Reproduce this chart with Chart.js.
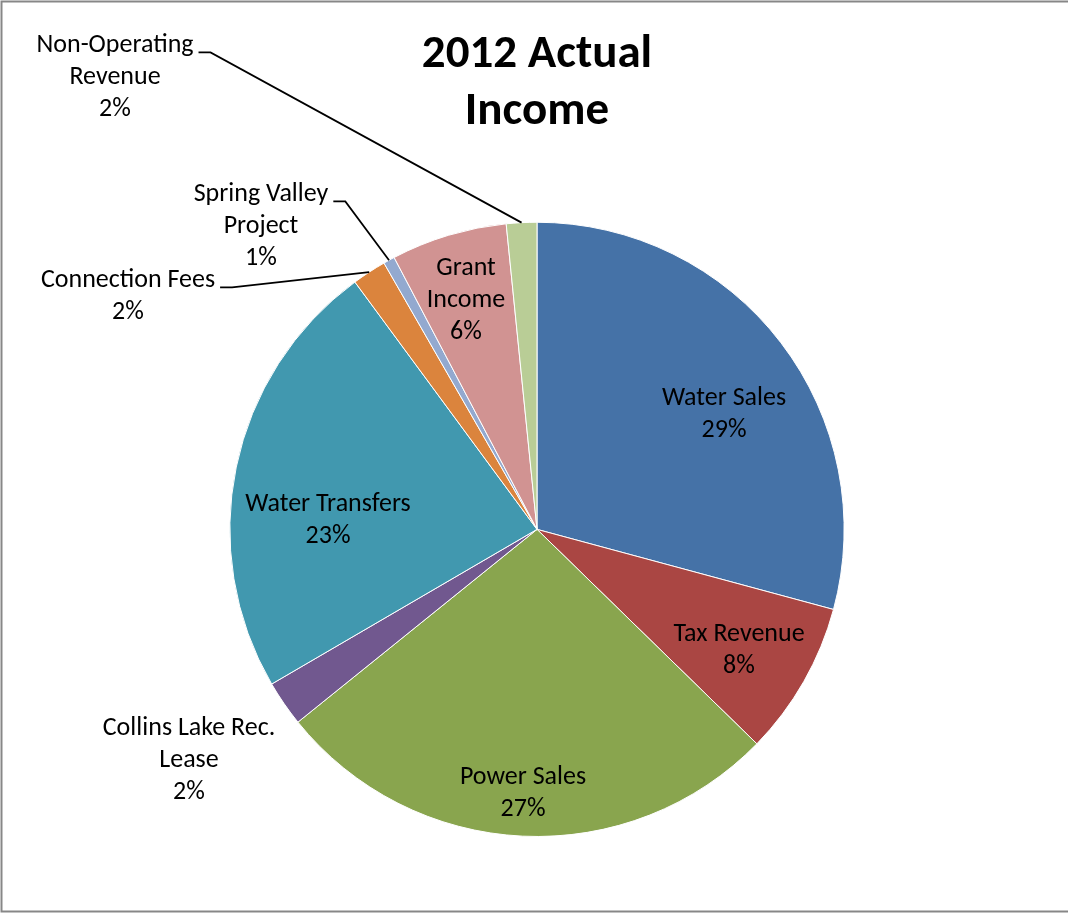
<!DOCTYPE html>
<html>
<head>
<meta charset="utf-8">
<script src="https://cdn.jsdelivr.net/npm/chart.js"></script>
<style>
  body { margin: 0; background: #fff; }
</style>
</head>
<body>
<canvas id="myChart" width="1068" height="913"></canvas>
<script>
// datos (porcentaje del ingreso)
const categorias = [
  "Water Sales",
  "Tax Revenue",
  "Power Sales",
  "Collins Lake Rec. Lease",
  "Water Transfers",
  "Connection Fees",
  "Spring Valley Project",
  "Grant Income",
  "Non-Operating Revenue",
];
const valores = [29.2, 8.1, 26.9, 2.4, 23.3, 1.8, 0.6, 6.1, 1.6];
const colores = [
  "#4572A7", "#AA4643", "#89A54E", "#71588F", "#4198AF",
  "#DB843D", "#93A9CF", "#D19392", "#B9CD96",
];

// como se parte cada etiqueta en lineas
const lineasEtiqueta = [
  ["Water Sales"],
  ["Tax Revenue"],
  ["Power Sales"],
  ["Collins Lake Rec.", "Lease"],
  ["Water Transfers"],
  ["Connection Fees"],
  ["Spring Valley", "Project"],
  ["Grant", "Income"],
  ["Non-Operating", "Revenue"],
];
// posicion de cada bloque de texto respecto al centro del pie
const posEtiqueta = [
  [187, -115], [202, 121], [-14, 264], [-348, 231], [-209, -9],
  [-409, -233], [-276, -303], [-71, -229], [-422, -452],
];
const conLinea = [false, false, false, false, false, true, true, false, true];

const fuente = "Carlito, Lato, sans-serif";
const altoLinea = 32;

const bordePlugin = {
  id: "borde",
  beforeDraw: (chart) => {
    const ctx = chart.ctx;
    ctx.save();
    ctx.fillStyle = "#fff";
    ctx.fillRect(0, 0, chart.width, chart.height);
    ctx.strokeStyle = "#878787";
    ctx.lineWidth = 2;
    ctx.strokeRect(1.5, 1.5, chart.width + 10, chart.height - 3);
    ctx.restore();
  },
};

const etiquetasPlugin = {
  id: "etiquetas",
  afterDatasetsDraw: (chart) => {
    const ctx = chart.ctx;
    const meta = chart.getDatasetMeta(0);
    const total = valores.reduce((a, b) => a + b, 0);
    ctx.save();
    ctx.font = `26px ${fuente}`;
    ctx.fillStyle = "#000";
    ctx.textAlign = "center";
    ctx.textBaseline = "middle";
    meta.data.forEach((arc, i) => {
      const { x, y, outerRadius, startAngle, endAngle } = arc.getProps(
        ["x", "y", "outerRadius", "startAngle", "endAngle"], true
      );
      const lineas = [...lineasEtiqueta[i], Math.round((valores[i] / total) * 100) + "%"];
      const cx = x + posEtiqueta[i][0];
      const cy = y + posEtiqueta[i][1];
      const y0 = cy - ((lineas.length - 1) * altoLinea) / 2;
      lineas.forEach((texto, j) => ctx.fillText(texto, cx, y0 + j * altoLinea));
      if (conLinea[i]) {
        const mid = (startAngle + endAngle) / 2;
        const ancho = ctx.measureText(lineas[0]).width;
        const sx = cx + ancho / 2 + 5;
        const sy = y0 + 7;
        ctx.beginPath();
        ctx.strokeStyle = "#000";
        ctx.lineWidth = 1.75;
        ctx.moveTo(sx, sy);
        ctx.lineTo(sx + 12, sy);
        ctx.lineTo(x + Math.cos(mid) * outerRadius, y + Math.sin(mid) * outerRadius);
        ctx.stroke();
      }
    });
    ctx.restore();
  },
};

const graficoPie = () => {
  const ctx = document.getElementById("myChart");
  const myChart = new Chart(ctx, {
    type: "pie",
    data: {
      labels: categorias,
      datasets: [
        {
          data: valores,
          backgroundColor: colores,
          borderColor: "#ffffff",
          borderWidth: 1,
        },
      ],
    },
    options: {
      responsive: false,
      animation: false,
      layout: {
        padding: { left: 30, right: 24, top: 0, bottom: 76 },
      },
      plugins: {
        legend: { display: false },
        tooltip: { enabled: false },
        title: {
          display: true,
          text: ["2012 Actual", "Income"],
          color: "#000",
          font: { family: fuente, size: 47, weight: "bold", lineHeight: 1.21 },
          padding: { top: 27, bottom: 81 },
        },
      },
    },
    plugins: [bordePlugin, etiquetasPlugin],
  });
};
graficoPie();
</script>
</body>
</html>
